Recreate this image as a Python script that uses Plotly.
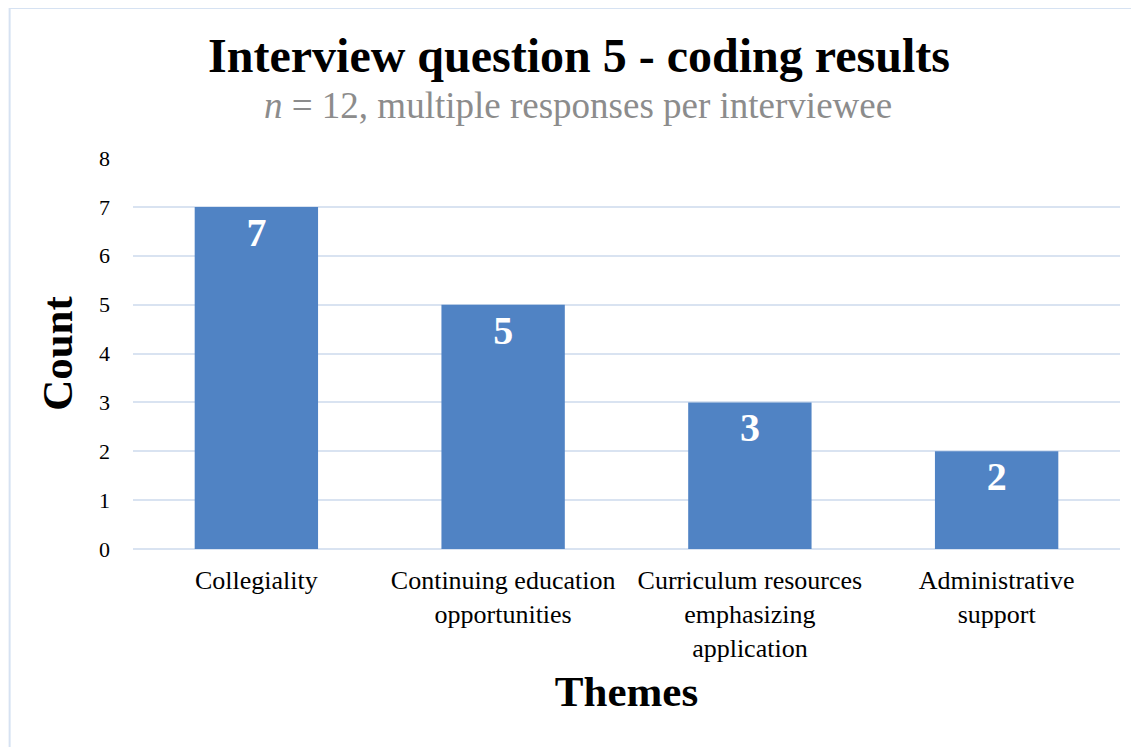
import plotly.graph_objects as go

categories = ["Collegiality", "Continuing education<br>opportunities",
              "Curriculum resources<br>emphasizing<br>application", "Administrative<br>support"]
counts = [7, 5, 3, 2]
y_ticks = [0, 1, 2, 3, 4, 5, 6, 7, 8]

SERIF = "Liberation Serif, Times New Roman, serif"
GRID = "#d9e3f1"

# figure sits at an 8px offset in the page (body margin)
W, H = 1131, 739
L, R, T, B = 124.5, 18.5, 150, 198
PW, PH = W - L - R, H - T - B

fig = go.Figure()
fig.add_trace(go.Bar(
    x=categories, y=counts,
    marker=dict(color="#5083c4", line=dict(width=0)),
    text=[str(v) for v in counts],
    textposition="inside", insidetextanchor="end",
    textfont=dict(family=SERIF, size=40, color="white", weight="bold"),
    textangle=0,
))

fig.update_layout(
    width=W, height=H,
    margin=dict(l=L, r=R, t=T, b=B),
    paper_bgcolor="white", plot_bgcolor="white",
    bargap=0.5,
    showlegend=False,
    title=dict(
        text="<b>Interview question 5 - coding results</b>",
        font=dict(family=SERIF, size=48, color="black"),
        x=571 / W, xref="container", xanchor="center",
        y=1 - 47 / H, yref="container", yanchor="middle",
    ),
    xaxis=dict(
        tickfont=dict(family=SERIF, size=26, color="black"),
        showgrid=False, showline=False, ticks="",
        ticklabelstandoff=13,
        title=dict(text="<b>Themes</b>", font=dict(family=SERIF, size=43, color="black"), standoff=14),
    ),
    yaxis=dict(
        range=[0, 8], tickvals=y_ticks,
        tickfont=dict(family=SERIF, size=22, color="black"),
        showgrid=True, gridcolor=GRID, gridwidth=2,
        zeroline=True, zerolinecolor=GRID, zerolinewidth=2,
        showline=False, ticks="", ticklabelstandoff=22,
        title=dict(text="<b>Count</b>", font=dict(family=SERIF, size=43, color="black"), standoff=12),
    ),
)

fig.add_annotation(
    text="<i>n</i> = 12, multiple responses per interviewee",
    xref="paper", yref="paper",
    x=(570 - L) / PW, y=1 + (T - 97) / PH,
    xanchor="center", yanchor="middle", showarrow=False,
    font=dict(family=SERIF, size=37, color="#8c8c8c"),
)

# chart-area border (light blue, top and left visible)
fig.add_shape(type="rect", xref="paper", yref="paper",
              x0=-(L - 1) / PW, x1=1 + 40 / PW,
              y0=-(B + 40) / PH, y1=1 + (T - 0) / PH,
              line=dict(color="#d6e2f2", width=2), fillcolor="rgba(0,0,0,0)", layer="below")

fig.write_html("out.html")
